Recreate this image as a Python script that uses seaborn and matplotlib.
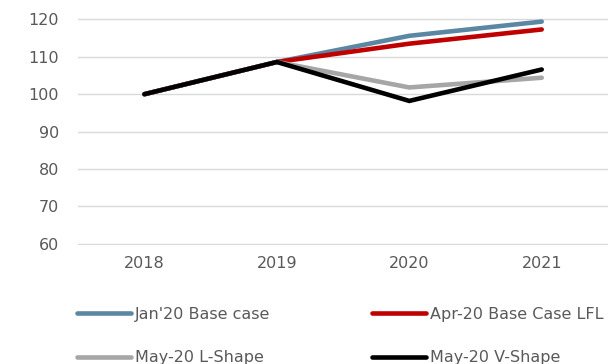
import matplotlib
matplotlib.use("Agg")
import matplotlib.pyplot as plt
import seaborn as sns
import pandas as pd
from matplotlib.lines import Line2D

years = ["2018", "2019", "2020", "2021"]
series_names = ["Jan'20 Base case", "Apr-20 Base Case LFL", "May-20 L-Shape", "May-20 V-Shape"]
jan20_base = [100, 108.6, 115.6, 119.4]
apr20_base_lfl = [100, 108.6, 113.5, 117.3]
may20_l_shape = [100, 108.6, 101.8, 104.4]
may20_v_shape = [100, 108.6, 98.2, 106.6]
colors = ["#5b87a3", "#c00000", "#a6a6a6", "#000000"]
y_ticks = [60, 70, 80, 90, 100, 110, 120]

values = [jan20_base, apr20_base_lfl, may20_l_shape, may20_v_shape]
rows = []
for name, vals in zip(series_names, values):
    for yr, v in zip(years, vals):
        rows.append({"year": yr, "value": v, "series": name})
df = pd.DataFrame(rows)

sns.set_theme(style="white")
plt.rcParams["font.family"] = ["DejaVu Sans"]

fig = plt.figure(figsize=(6.11, 3.64), dpi=100)
ax = fig.add_axes([0.128, 0.327, 0.867, 0.626])

sns.lineplot(data=df, x="year", y="value", hue="series", hue_order=series_names,
             palette=colors, linewidth=3.3, ax=ax, legend=False, sort=False)
for ln in ax.lines:
    ln.set_solid_capstyle("round")
    ln.set_solid_joinstyle("miter")

ax.set_xlim(-0.5, 3.5)
ax.set_ylim(59.7, 120.6)
ax.set_yticks(y_ticks)
ax.yaxis.grid(True, color="#d9d9d9", linewidth=1)
ax.xaxis.grid(False)
ax.set_axisbelow(True)
for s in ax.spines.values():
    s.set_visible(False)
ax.set_xlabel("")
ax.set_ylabel("")
ax.tick_params(axis="both", length=0, labelsize=11.5, labelcolor="#595959")
ax.tick_params(axis="y", pad=14)
ax.tick_params(axis="x", pad=8)

hs = [Line2D([0], [0], color=c, linewidth=3.3, solid_capstyle="round") for c in colors]
order = [0, 2, 1, 3]
leg = fig.legend([hs[i] for i in order], [series_names[i] for i in order],
                 ncol=2, loc="lower left", bbox_to_anchor=(0.102, -0.043),
                 frameon=False, fontsize=11.5, handlelength=3.4, handletextpad=0.25,
                 columnspacing=6.35, labelspacing=1.78)
for t in leg.get_texts():
    t.set_color("#595959")

fig.savefig("out.png", dpi=100)
